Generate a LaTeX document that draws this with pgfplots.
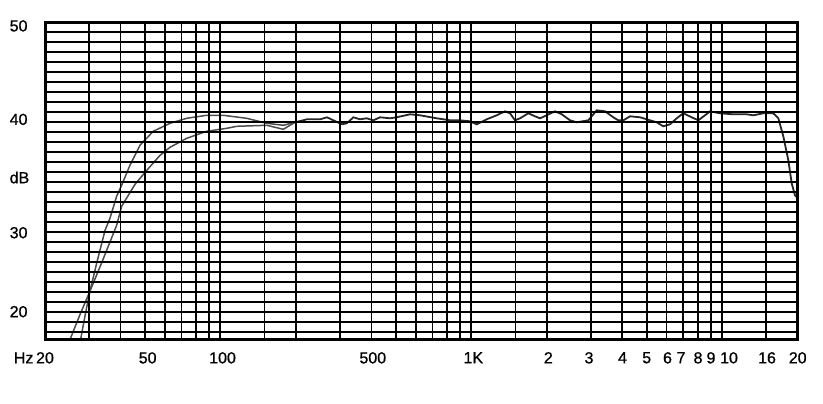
\documentclass[border=0pt]{standalone}
\usepackage{fontspec}
\setmainfont{Liberation Sans}
\usepackage{pgfplots}
\usepackage{pgfplotstable}
\pgfplotsset{compat=1.18}

% low-frequency part of the two curves (Hz, dB), they join near 200 Hz
\pgfplotstableread{
f      db
27.6   18.0
28.9   20.7
30.2   23.1
32.2   26.0
34.7   29.2
36.3   30.4
38.6   32.6
40.4   33.7
43.6   35.7
47.8   37.7
54.0   39.1
63.0   39.9
73.4   40.4
88.2   40.7
102.7  40.7
127.3  40.4
153    39.9
178.2  39.7
198.4  40.0
}\curveA

\pgfplotstableread{
f      db
24.9   18.0
27.6   20.8
30.2   23.1
33.7   26.0
38.6   29.7
40.4   31.6
45.7   33.8
50.9   35.2
57.5   36.7
63.0   37.5
73.4   38.4
88.2   39.1
106    39.4
116.2  39.6
153    39.7
178.2  39.3
186.5  39.6
198.4  40.0
}\curveB

% common part, 200 Hz to 20 kHz
\pgfplotstableread{
f      db
198.4  40.0
214    40.2
221    40.3
250    40.3
266    40.5
282    40.2
305    39.8
319    39.9
339    40.5
360    40.3
383    40.4
407    40.2
433    40.5
474    40.4
504    40.5
570    40.8
625    40.7
728    40.4
823    40.2
902    40.2
988    40.1
1051   39.8
1152   40.3
1263   40.7
1363   41.1
1427   40.9
1494   40.2
1564   40.4
1688   40.9
1795   40.6
1879   40.4
1998   40.7
2156   41.1
2294   40.8
2475   40.2
2632   40.0
2928   40.2
3162   41.2
3412   41.1
3682   40.5
3855   40.2
4037   40.2
4292   40.6
4705   40.5
5002   40.3
5483   40.0
5825   39.6
6194   39.8
6588   40.4
6998   40.9
7560   40.5
8034   40.2
8542   40.7
8944   41.1
9802   40.9
11076  40.8
12526  40.8
13306  40.7
14586  40.9
15988  40.9
16740  40.4
17526  38.6
18350  36.2
18928  33.9
19508  32.7
20000  32.4
}\curveC

\begin{document}
\begin{tikzpicture}
\begin{axis}[
    scale only axis,
    width=752.7pt, height=317.7pt,
    xmode=log,
    xmin=20, xmax=20000,
    ymin=18.23, ymax=50,
    axis on top,
    axis line style={line width=3pt},
    major tick length=0pt, minor tick length=0pt,
    tick style={draw=none},
    % label positions as printed on the sheet
    xtick={20,51.3,102,405,1019,2028,2946,4006,5002,6054,6854,8012,9024,10646,15088,20000},
    xticklabels={\llap{Hz\,}20,50,100,500,1K,2,3,4,5,6,7,8,9,10,16,20},
    minor xtick={30,40,50,60,70,80,90,100,150,200,300,400,500,600,700,800,900,1000,1500,2000,3000,4000,5000,6000,7000,8000,9000,10000,15000},
    ytick={21.06,28.96,34.48,40.29,49.64},
    yticklabels={20,30,dB,40,50},
    minor ytick={19,...,49},
    xmajorgrids=false, ymajorgrids=false,
    xminorgrids=true, yminorgrids=true,
    minor grid style={black, line width=1.8pt},
    tick label style={font=\fontsize{16}{18}\selectfont\addfontfeature{FakeBold=0.8}, inner sep=0pt},
    xticklabel style={anchor=north, yshift=-12pt},
    yticklabel style={anchor=west, xshift=-35.5pt},
    clip=true,
]
\addplot[black!70, line width=1.5pt] table[x=f, y=db] {\curveA};
\addplot[black!70, line width=1.5pt] table[x=f, y=db] {\curveB};
\addplot[black!85, line width=1.8pt] table[x=f, y=db] {\curveC};
\end{axis}
\pgfresetboundingbox
\path[use as bounding box] (-45pt,-64pt) rectangle (778pt,340pt);
\end{tikzpicture}
\end{document}
